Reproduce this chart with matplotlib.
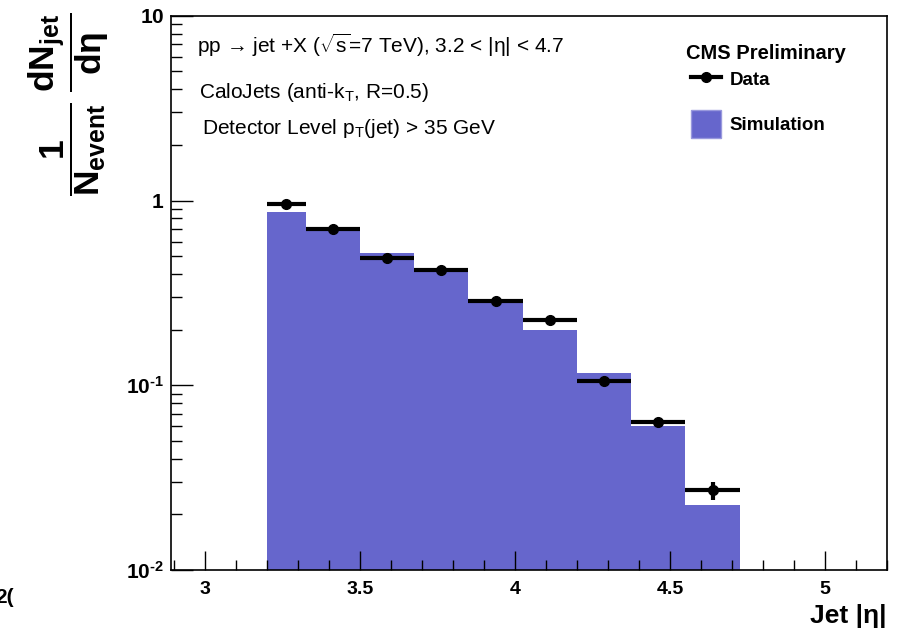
import numpy as np
import matplotlib
matplotlib.use("Agg")
import matplotlib.pyplot as plt
from matplotlib.lines import Line2D
from matplotlib.patches import Patch, Rectangle
from matplotlib.legend_handler import HandlerPatch
from matplotlib.ticker import LogLocator, MultipleLocator, NullFormatter

plt.rcParams['font.family'] = ['Liberation Sans', 'DejaVu Sans']
plt.rcParams['mathtext.fontset'] = 'custom'
plt.rcParams['mathtext.rm'] = 'Liberation Sans'
plt.rcParams['mathtext.it'] = 'Liberation Sans:italic'
plt.rcParams['mathtext.bf'] = 'Liberation Sans:bold'

# HF eta binning, |eta| > 3.2
eta_edges = [3.2, 3.325, 3.5, 3.675, 3.85, 4.025, 4.2, 4.375, 4.55, 4.725]
data_vals = [0.96, 0.705, 0.49, 0.42, 0.286, 0.226, 0.106, 0.063, 0.027]
data_errs = [0.010, 0.008, 0.006, 0.005, 0.004, 0.004, 0.002, 0.0015, 0.003]
sim_vals  = [0.87, 0.68, 0.52, 0.43, 0.283, 0.200, 0.117, 0.060, 0.0225]

xticks_major = [3, 3.5, 4, 4.5, 5]
xtick_labels = ['3', '3.5', '4', '4.5', '5']
yticks_major = [0.01, 0.1, 1, 10]
ytick_labels = ['$\\mathbf{10^{\u2010 2}}$', '$\\mathbf{10^{\u2010 1}}$',
                r'$\mathbf{1}$', r'$\mathbf{10}$']

edges = np.array(eta_edges)
centers = 0.5*(edges[1:] + edges[:-1])
halfw = 0.5*np.diff(edges)


def tall_box(legend, orig_handle, xdescent, ydescent, width, height, fontsize):
    # fill box in the legend is taller than the text row
    extra = 0.5*fontsize
    return Rectangle((-xdescent, -ydescent - extra/2), width, height + extra)


fig = plt.figure(figsize=(8.99, 6.34), dpi=100)
ax = fig.add_axes([0.190, 0.101, 0.7966, 0.874])

ax.stairs(sim_vals, edges, fill=True, baseline=1e-3, color='#6666cc', linewidth=0)
ax.errorbar(centers, data_vals, xerr=halfw, yerr=data_errs, fmt='o', color='k',
            ms=7, elinewidth=3, capsize=0, zorder=3)

ax.set_yscale('log')
ax.set_xlim(2.89, 5.2)
ax.set_ylim(0.01, 10)

ax.set_xticks(xticks_major)
ax.set_xticklabels(xtick_labels, fontsize=14, fontweight='bold')
ax.xaxis.set_minor_locator(MultipleLocator(0.1))
ax.set_yticks(yticks_major)
ax.set_yticklabels(ytick_labels, fontsize=15)
ax.yaxis.set_minor_locator(LogLocator(base=10, subs=np.arange(2, 10)))
ax.yaxis.set_minor_formatter(NullFormatter())

ax.tick_params(axis='x', which='major', direction='in', length=14, width=1, pad=8)
ax.tick_params(axis='x', which='minor', direction='in', length=7, width=1)
ax.tick_params(axis='y', which='major', direction='in', length=16, width=1, pad=5)
ax.tick_params(axis='y', which='minor', direction='in', length=8, width=1)
for s in ax.spines.values():
    s.set_linewidth(1.2)

ax.set_xlabel('Jet |η|', fontsize=19, fontweight='bold', loc='right', labelpad=4)

fig.text(0.076, 0.835, r'$\mathbf{\dfrac{1}{N_{event}}\;\dfrac{dN_{jet}}{d\eta}}$',
         rotation=90, fontsize=25.5, ha='center', va='center')

ax.text(0.037, 0.946, r'pp → jet +X ($\sqrt{\mathrm{s}}$=7 TeV), 3.2 < |η| < 4.7',
        transform=ax.transAxes, fontsize=15, va='center', ha='left')
ax.text(0.040, 0.862, r'CaloJets (anti-k$_{\mathrm{T}}$, R=0.5)',
        transform=ax.transAxes, fontsize=15, va='center', ha='left')
ax.text(0.043, 0.797, r'Detector Level p$_{\mathrm{T}}$(jet) > 35 GeV',
        transform=ax.transAxes, fontsize=15, va='center', ha='left')

# legend header
ax.text(0.720, 0.932, 'CMS Preliminary', transform=ax.transAxes,
        fontsize=14.5, fontweight='bold', va='center', ha='left')

handles = [Line2D([], [], color='k', marker='o', lw=3, ms=7),
           Patch(facecolor='#6666cc', edgecolor='#9999dd')]
leg = ax.legend(handles, ['Data', 'Simulation'], loc='upper left',
                bbox_to_anchor=(0.727, 0.904), frameon=False,
                prop={'weight': 'bold', 'size': 13.5},
                handlelength=1.6, handleheight=1.2, labelspacing=1.35,
                handletextpad=0.45, borderpad=0, borderaxespad=0,
                handler_map={Patch: HandlerPatch(patch_func=tall_box)})

fig.text(-0.005, 0.058, '2(', fontsize=15, fontweight='bold', ha='left', va='center')

fig.savefig('out.png', dpi=100)
